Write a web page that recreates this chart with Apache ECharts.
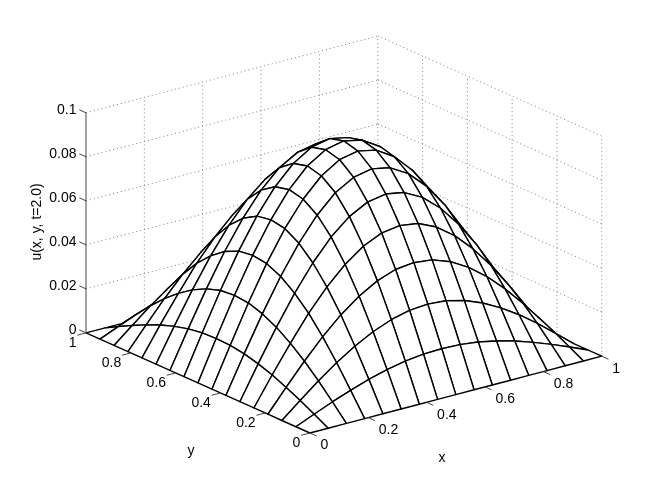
<!DOCTYPE html>
<html>
<head>
<meta charset="utf-8">
<style>
html,body{margin:0;padding:0;background:#fff;}
#main{width:664px;height:487px;}
</style>
<script src="https://cdn.jsdelivr.net/npm/echarts@6/dist/echarts.min.js"></script>
</head>
<body>
<div id="main"></div>
<script>
var xGrid = [0, 0.0625, 0.125, 0.1875, 0.25, 0.3125, 0.375, 0.4375, 0.5, 0.5625, 0.625, 0.6875, 0.75, 0.8125, 0.875, 0.9375, 1];
var yGrid = [0, 0.0625, 0.125, 0.1875, 0.25, 0.3125, 0.375, 0.4375, 0.5, 0.5625, 0.625, 0.6875, 0.75, 0.8125, 0.875, 0.9375, 1];
// u values, one row per x, one column per y
var uValues = [
    [0, 0, 0, 0, 0, 0, 0, 0, 0, 0, 0, 0, 0, 0, 0, 0, 0],
    [0, .0035, .0069, .0100, .0128, .0150, .0167, .0177, .0180, .0177, .0167, .0150, .0128, .0100, .0069, .0035, 0],
    [0, .0069, .0136, .0197, .0250, .0294, .0327, .0348, .0354, .0348, .0327, .0294, .0250, .0197, .0136, .0069, 0],
    [0, .0100, .0197, .0286, .0364, .0427, .0475, .0505, .0514, .0505, .0475, .0427, .0364, .0286, .0197, .0100, 0],
    [0, .0128, .0250, .0364, .0462, .0543, .0604, .0642, .0654, .0642, .0604, .0543, .0462, .0364, .0250, .0128, 0],
    [0, .0150, .0294, .0427, .0543, .0639, .0710, .0754, .0769, .0754, .0710, .0639, .0543, .0427, .0294, .0150, 0],
    [0, .0167, .0327, .0475, .0604, .0710, .0790, .0838, .0855, .0838, .0790, .0710, .0604, .0475, .0327, .0167, 0],
    [0, .0177, .0348, .0505, .0642, .0754, .0838, .0890, .0907, .0890, .0838, .0754, .0642, .0505, .0348, .0177, 0],
    [0, .0180, .0354, .0514, .0654, .0769, .0855, .0907, .0925, .0907, .0855, .0769, .0654, .0514, .0354, .0180, 0],
    [0, .0177, .0348, .0505, .0642, .0754, .0838, .0890, .0907, .0890, .0838, .0754, .0642, .0505, .0348, .0177, 0],
    [0, .0167, .0327, .0475, .0604, .0710, .0790, .0838, .0855, .0838, .0790, .0710, .0604, .0475, .0327, .0167, 0],
    [0, .0150, .0294, .0427, .0543, .0639, .0710, .0754, .0769, .0754, .0710, .0639, .0543, .0427, .0294, .0150, 0],
    [0, .0128, .0250, .0364, .0462, .0543, .0604, .0642, .0654, .0642, .0604, .0543, .0462, .0364, .0250, .0128, 0],
    [0, .0100, .0197, .0286, .0364, .0427, .0475, .0505, .0514, .0505, .0475, .0427, .0364, .0286, .0197, .0100, 0],
    [0, .0069, .0136, .0197, .0250, .0294, .0327, .0348, .0354, .0348, .0327, .0294, .0250, .0197, .0136, .0069, 0],
    [0, .0035, .0069, .0100, .0128, .0150, .0167, .0177, .0180, .0177, .0167, .0150, .0128, .0100, .0069, .0035, 0],
    [0, 0, 0, 0, 0, 0, 0, 0, 0, 0, 0, 0, 0, 0, 0, 0, 0]
];
var xTicks = [0, 0.2, 0.4, 0.6, 0.8, 1];
var yTicks = [0, 0.2, 0.4, 0.6, 0.8, 1];
var zTicks = [0, 0.02, 0.04, 0.06, 0.08, 0.1];
var xLabels = ['0', '0.2', '0.4', '0.6', '0.8', '1'];
var yLabels = ['0', '0.2', '0.4', '0.6', '0.8', '1'];
var zLabels = ['0', '0.02', '0.04', '0.06', '0.08', '0.1'];

// view(-37.5, 20), z stretched so the box looks like the matlab one
var sinAz = Math.sin(37.5 * Math.PI / 180), cosAz = Math.cos(37.5 * Math.PI / 180);
var sinEl = Math.sin(20 * Math.PI / 180), cosEl = Math.cos(20 * Math.PI / 180);
var zScale = 6.35;
var TICK = 0.03;
var FONT = '14px "Liberation Sans", Arial, sans-serif';

function proj(x, y, z) {
    return [
        x * cosAz - y * sinAz,
        (x * sinAz + y * cosAz) * sinEl + z * zScale * cosEl
    ];
}

// wall grid, dotted: [x0,y0,z0,x1,y1,z1]
var wallSegs = [];
xTicks.forEach(function (x) {
    if (x > 0) wallSegs.push([x, 1, 0, x, 1, 0.1]);
});
yTicks.forEach(function (y) {
    if (y < 1) wallSegs.push([1, y, 0, 1, y, 0.1]);
});
zTicks.forEach(function (z) {
    wallSegs.push([0, 1, z, 1, 1, z]);
    wallSegs.push([1, 1, z, 1, 0, z]);
});

// axis line and tick marks
var tickSegs = [[0, 1, 0, 0, 1, 0.1]];
xTicks.forEach(function (x) { tickSegs.push([x, 0, 0, x, -TICK, 0]); });
yTicks.forEach(function (y) { tickSegs.push([0, y, 0, -TICK, y, 0]); });
zTicks.forEach(function (z) { tickSegs.push([0, 1, z, 0, 1 + TICK, z]); });

// tick labels: [x,y,z,text,align,dx,dy]
var tickTexts = [];
xTicks.forEach(function (x, i) { tickTexts.push([x, 0, 0, xLabels[i], 'left', 10.5, 12.5]); });
yTicks.forEach(function (y, i) { tickTexts.push([0, y, 0, yLabels[i], 'right', -9.5, 10.5]); });
zTicks.forEach(function (z, i) { tickTexts.push([0, 1, z, zLabels[i], 'right', -9.5, -3]); });

// back to front, far corner (1,1) first
var cells = [];
for (var i = xGrid.length - 2; i >= 0; i--) {
    for (var j = yGrid.length - 2; j >= 0; j--) {
        cells.push([i, j]);
    }
}

function segSeries(segs, lineStyle, z) {
    return {
        type: 'custom',
        coordinateSystem: 'cartesian2d',
        z: z,
        silent: true,
        data: segs.map(function (s, n) { return [n, 0]; }),
        renderItem: function (params, api) {
            var s = segs[params.dataIndex];
            var a = api.coord(proj(s[0], s[1], s[2]));
            var b = api.coord(proj(s[3], s[4], s[5]));
            return {
                type: 'line',
                shape: {x1: a[0], y1: a[1], x2: b[0], y2: b[1]},
                style: lineStyle
            };
        }
    };
}

var hMin = proj(0, 1, 0)[0], hMax = proj(1, 0, 0)[0];
var vMin = 0, vMax = proj(1, 1, 0.1)[1];

var chart = echarts.init(document.getElementById('main'));
chart.setOption({
    animation: false,
    backgroundColor: '#fff',
    grid: {left: 86, top: 36, width: 515.7, height: 397},
    xAxis: {type: 'value', min: hMin, max: hMax, show: false},
    yAxis: {type: 'value', min: vMin, max: vMax, show: false},
    graphic: [
        {type: 'text', x: 37, y: 222, rotation: Math.PI / 2, z: 10,
            style: {text: 'u(x, y, t=2.0)', font: FONT, fill: '#000', textAlign: 'center', textVerticalAlign: 'middle'}},
        {type: 'text', x: 442, y: 458, z: 10,
            style: {text: 'x', font: FONT, fill: '#000', textAlign: 'center', textVerticalAlign: 'middle'}},
        {type: 'text', x: 191, y: 451, z: 10,
            style: {text: 'y', font: FONT, fill: '#000', textAlign: 'center', textVerticalAlign: 'middle'}}
    ],
    series: [
        segSeries(wallSegs, {stroke: '#808080', lineWidth: 1, lineDash: [1, 3], fill: null}, 1),
        {
            type: 'custom',
            coordinateSystem: 'cartesian2d',
            z: 2,
            silent: true,
            data: cells,
            renderItem: function (params, api) {
                var i = api.value(0), j = api.value(1);
                var corners = [[i, j], [i + 1, j], [i + 1, j + 1], [i, j + 1]];
                var pts = corners.map(function (c) {
                    return api.coord(proj(xGrid[c[0]], yGrid[c[1]], uValues[c[0]][c[1]]));
                });
                return {
                    type: 'polygon',
                    shape: {points: pts},
                    style: {fill: '#fff', stroke: '#000', lineWidth: 1.4, lineJoin: 'round'}
                };
            }
        },
        segSeries(tickSegs, {stroke: '#444', lineWidth: 1, fill: null}, 3),
        {
            type: 'custom',
            coordinateSystem: 'cartesian2d',
            z: 4,
            silent: true,
            data: tickTexts.map(function (t, n) { return [n, 0]; }),
            renderItem: function (params, api) {
                var t = tickTexts[params.dataIndex];
                var p = api.coord(proj(t[0], t[1], t[2]));
                return {
                    type: 'text',
                    style: {
                        x: p[0] + t[5], y: p[1] + t[6], text: t[3], font: FONT, fill: '#000',
                        textAlign: t[4], textVerticalAlign: 'middle', align: t[4], verticalAlign: 'middle'
                    }
                };
            }
        }
    ]
});
</script>
</body>
</html>
